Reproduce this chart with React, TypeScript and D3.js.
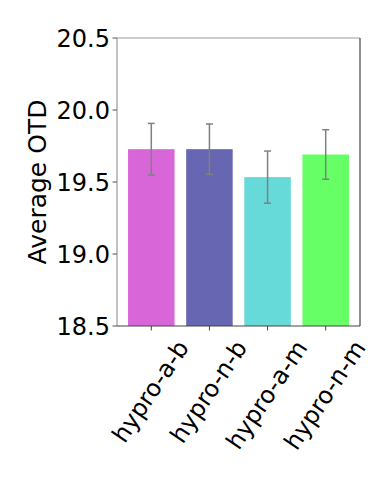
import React from "react";
import * as d3 from "d3";

const categories = ["hypro-a-b", "hypro-n-b", "hypro-a-m", "hypro-n-m"];
const means = [19.728, 19.728, 19.534, 19.691];
const errors = [0.179, 0.175, 0.181, 0.172];
const colors = ["#D966D9", "#6666B3", "#66D9D9", "#66FF66"];
const yTicks = [18.5, 19.0, 19.5, 20.0, 20.5];

const W = 390;
const H = 488;
const left = 117;
const right = 360;
const top = 38;
const bottom = 326;
const FONT = "DejaVu Sans";
const TICK_FS = 24;
const ROT = 56;

function measure(text: string, fs: number): number {
  const c = document.createElement("canvas");
  const ctx = c.getContext("2d");
  if (!ctx) return text.length * fs * 0.55;
  ctx.font = `${fs}px "${FONT}"`;
  return ctx.measureText(text).width;
}

export default function App() {
  const x = d3.scaleLinear().domain([-0.59, 3.59]).range([left, right]);
  const y = d3.scaleLinear().domain([18.5, 20.5]).range([bottom, top]);
  const bw = x(0.8) - x(0);
  const th = (ROT * Math.PI) / 180;

  return (
    <svg
      width={W}
      height={H}
      style={{ position: "absolute", left: 0, top: 0, background: "#fff" }}
      fontFamily={FONT}
    >
      {categories.map((c, i) => (
        <rect
          key={c}
          x={x(i) - bw / 2}
          y={y(means[i])}
          width={bw}
          height={y(18.5) - y(means[i])}
          fill={colors[i]}
        />
      ))}
      {categories.map((c, i) => {
        const cx = x(i);
        const yt = y(means[i] + errors[i]);
        const yb = y(means[i] - errors[i]);
        return (
          <g key={"e" + c} stroke="#808080" strokeWidth={1.5}>
            <line x1={cx} x2={cx} y1={yt} y2={yb} />
            <line x1={cx - 3.5} x2={cx + 3.5} y1={yt} y2={yt} />
            <line x1={cx - 3.5} x2={cx + 3.5} y1={yb} y2={yb} />
          </g>
        );
      })}
      {/* spines */}
      <line x1={left} x2={right} y1={top} y2={top} stroke="#999" strokeWidth={1.2} />
      <line x1={left} x2={left} y1={top} y2={bottom} stroke="#999" strokeWidth={1.2} />
      <line x1={right} x2={right} y1={top} y2={bottom} stroke="#444" strokeWidth={1.2} />
      <line x1={left} x2={right} y1={bottom} y2={bottom} stroke="#444" strokeWidth={1.2} />
      {/* y ticks */}
      {yTicks.map((t) => (
        <g key={"y" + t}>
          <line x1={left - 4.5} x2={left} y1={y(t)} y2={y(t)} stroke="#555" strokeWidth={1} />
          <text
            x={110}
            y={y(t) + (0.729 * TICK_FS) / 2}
            textAnchor="end"
            fontSize={TICK_FS}
            fill="#000"
          >
            {t.toFixed(1)}
          </text>
        </g>
      ))}
      {/* x ticks */}
      {categories.map((c, i) => {
        const L = measure(c, TICK_FS);
        const h = TICK_FS * 1.0;
        const bh = L * Math.sin(th) + h * Math.cos(th);
        const cy = bottom + 11 + bh / 2;
        return (
          <g key={"x" + c}>
            <line x1={x(i)} x2={x(i)} y1={bottom} y2={bottom + 4.5} stroke="#444" strokeWidth={1} />
            <text
              transform={`translate(${x(i)},${cy}) rotate(${-ROT})`}
              textAnchor="middle"
              dy="0.3em"
              fontSize={TICK_FS}
              fill="#000"
            >
              {c}
            </text>
          </g>
        );
      })}
      <text
        transform={`translate(46,${(top + bottom) / 2}) rotate(-90)`}
        textAnchor="middle"
        fontSize={25}
        fill="#000"
      >
        Average OTD
      </text>
    </svg>
  );
}
